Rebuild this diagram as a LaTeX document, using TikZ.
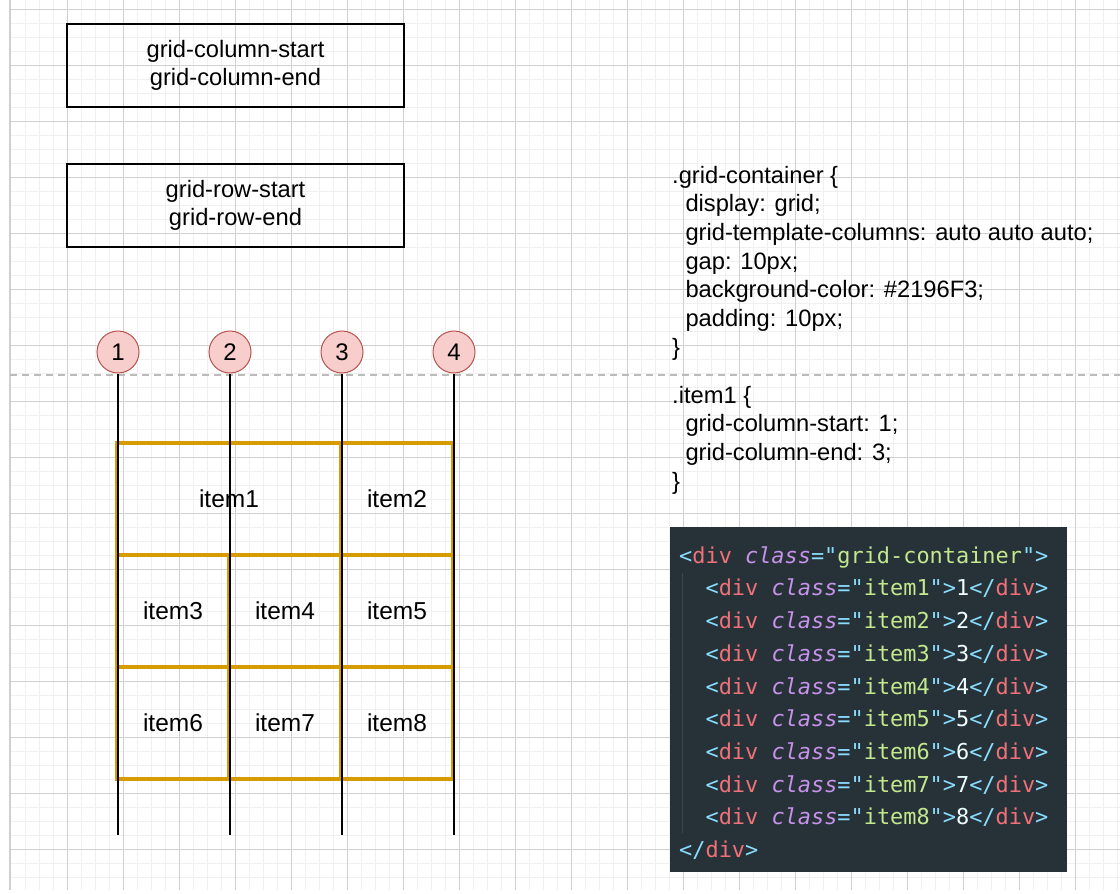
\documentclass[tikz,border=0pt]{standalone}
\usepackage{fontspec}
\setmainfont{Liberation Sans}
\setmonofont{DejaVu Sans Mono}
\usetikzlibrary{calc}

\definecolor{gridmajor}{HTML}{D0D0D0}
\definecolor{gridminor}{HTML}{F0F0F0}
\definecolor{itemorange}{HTML}{D79B00}
\definecolor{numfill}{HTML}{F8CECC}
\definecolor{numdraw}{HTML}{B85450}
\definecolor{codebg}{HTML}{263238}
\definecolor{codeguide}{HTML}{37474F}
\definecolor{codepun}{HTML}{89DDFF}
\definecolor{codetag}{HTML}{F07178}
\definecolor{codeattr}{HTML}{C792EA}
\definecolor{codestr}{HTML}{C3E88D}
\definecolor{codetxt}{HTML}{EEFFFF}

\newcommand{\cdp}[1]{\textcolor{codepun}{#1}}
\newcommand{\cdt}[1]{\textcolor{codetag}{#1}}
\newcommand{\cda}[1]{\textcolor{codeattr}{\itshape #1}}
\newcommand{\cds}[1]{\textcolor{codestr}{#1}}
\newcommand{\cdx}[1]{\textcolor{codetxt}{#1}}
\newcommand{\ind}{\hspace*{13.3pt}}
\newcommand{\itemline}[1]{\hspace*{26.4pt}\cdp{<}\cdt{div} \cda{class}\cdp{="}\cds{item#1}\cdp{">}\cdx{#1}\cdp{</}\cdt{div}\cdp{>}}

\begin{document}
\begin{tikzpicture}[x=1pt, y=-1pt,
	minorline/.style={draw=gridminor, line width=1pt},
	majorline/.style={draw=gridmajor, line width=1pt},
	propbox/.style={draw, line width=1.2pt, minimum width=337pt, minimum height=83pt, align=center, font=\fontsize{23.7pt}{28.7pt}\selectfont},
	item/.style={draw=itemorange, line width=4pt, minimum width=112pt, minimum height=112pt, font=\fontsize{24.5pt}{28.7pt}\selectfont},
	linenum/.style={circle, draw=numdraw, fill=numfill, line width=1pt, minimum size=42pt, inner sep=0pt, font=\fontsize{24pt}{28.7pt}\selectfont},
	trackline/.style={line width=1.3pt},
	csstext/.style={anchor=west, inner sep=0pt, align=left, font=\fontsize{23.7pt}{28.7pt}\selectfont},
	codetext/.style={anchor=west, inner sep=0pt, align=left, font=\ttfamily\fontsize{21.9pt}{32.7pt}\selectfont},
	node distance=112pt,
	]

	\useasboundingbox (0,0) rectangle (1120,894);
	\fill[white] (0,0) rectangle (1120,894);

	\foreach \x in {25,39,...,1117} \draw[minorline] (\x,0) -- (\x,890);
	\foreach \y in {9,23,...,880} \draw[minorline] (11,\y) -- (1120,\y);
	\foreach \x in {67,123,...,1120} \draw[majorline] (\x,0) -- (\x,890);
	\foreach \y in {9,65,...,890} \draw[majorline] (11,\y) -- (1120,\y);
	\draw[draw=gridmajor, line width=1.5pt] (10,0) -- (10,890);

	\node[propbox] (colbox) at (235.5,65.5) {grid-column-start\\grid-column-end};
	\node[propbox] (rowbox) at (235.5,205.5) {grid-row-start\\grid-row-end};

	\node[item] (it3) at (173,611) {item3};
	\node[item, right of=it3] (it4) {item4};
	\node[item, right of=it4] (it5) {item5};
	\node[item, below of=it3] (it6) {item6};
	\node[item, right of=it6] (it7) {item7};
	\node[item, right of=it7] (it8) {item8};
	\node[item, above of=it5] (it2) {item2};
	\node[item, minimum width=224pt] (it1) at (229,499) {item1};

	\draw[draw=gridmajor!90!black, line width=1.5pt, dash pattern=on 7pt off 5pt] (10,375) -- (1120,375);

	\node[linenum] (n1) at (118,352) {1};
	\node[linenum, right of=n1] (n2) {2};
	\node[linenum, right of=n2] (n3) {3};
	\node[linenum, right of=n3] (n4) {4};

	\node[coordinate, below of=n1, node distance=483pt] (e1) {};
	\node[coordinate, below of=n2, node distance=483pt] (e2) {};
	\node[coordinate, below of=n3, node distance=483pt] (e3) {};
	\node[coordinate, below of=n4, node distance=483pt] (e4) {};

	\draw[trackline] (n1) -- (e1);
	\draw[trackline] (n2) -- (e2);
	\draw[trackline] (n3) -- (e3);
	\draw[trackline] (n4) -- (e4);

	\node[csstext] (contcss) at (672,263) {.grid-container \{\\
		\ind display: grid;\\
		\ind grid-template-columns: auto auto auto;\\
		\ind gap: 10px;\\
		\ind background-color: \#2196F3;\\
		\ind padding: 10px;\\
		\}};
	\node[csstext] (itemcss) at (672,440) {.item1 \{\\
		\ind grid-column-start: 1;\\
		\ind grid-column-end: 3;\\
		\}};

	\node[fill=codebg, minimum width=397pt, minimum height=345pt, anchor=north west] (codebox) at (670,527) {};
	\draw[codeguide, line width=1pt] (682,573) -- (682,833);
	\node[codetext] (html) at (679,703) {%
		\cdp{<}\cdt{div} \cda{class}\cdp{="}\cds{grid-container}\cdp{">}\\
		\itemline{1}\\
		\itemline{2}\\
		\itemline{3}\\
		\itemline{4}\\
		\itemline{5}\\
		\itemline{6}\\
		\itemline{7}\\
		\itemline{8}\\
		\cdp{</}\cdt{div}\cdp{>}};

\end{tikzpicture}
\end{document}
